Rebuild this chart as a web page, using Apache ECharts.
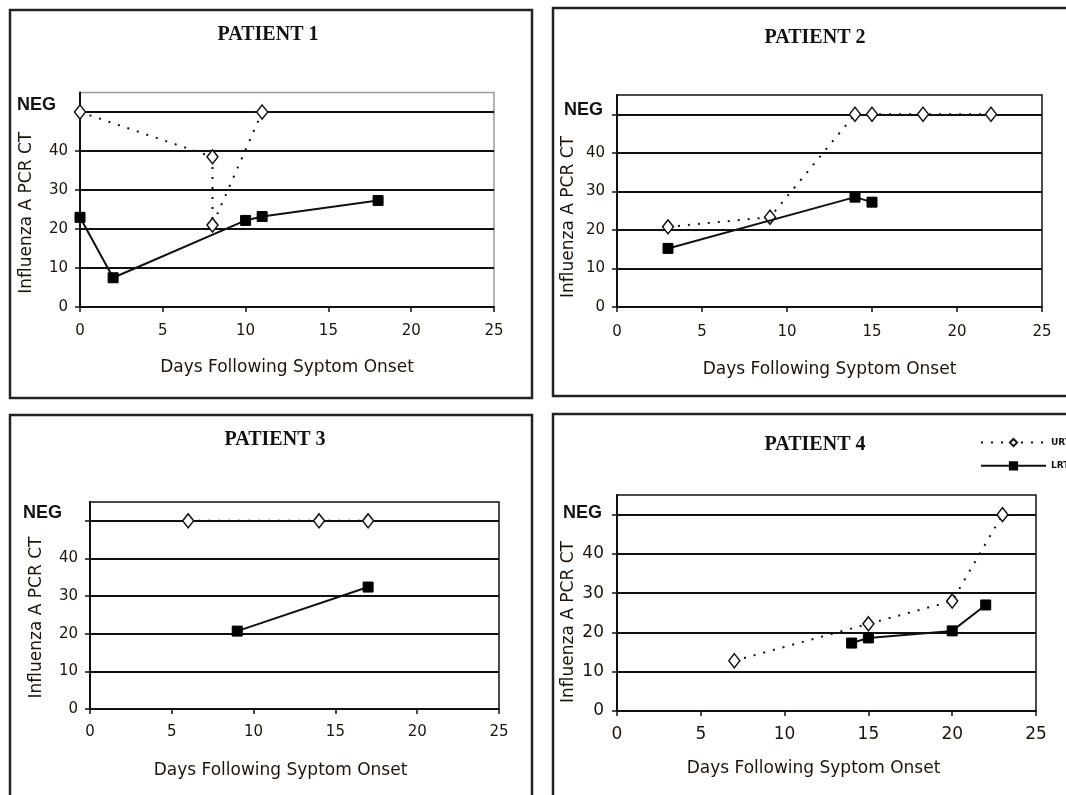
<!DOCTYPE html>
<html>
<head>
<meta charset="utf-8">
<script src="https://cdn.jsdelivr.net/npm/echarts@6/dist/echarts.min.js"></script>
<style>
  html, body { margin: 0; background: #fff; }
  #chart { width: 1066px; height: 795px; }
</style>
</head>
<body>
<div id="chart"></div>
<script>
// panel titles and axis text
var titles = ['PATIENT 1', 'PATIENT 2', 'PATIENT 3', 'PATIENT 4']
var xName = 'Days Following Syptom Onset'
var yName = 'Influenza A PCR CT'
var yTicks = [0, 10, 20, 30, 40, 50]
var negLabel = 'NEG'
var negCt = 50

// patient 1
var p1UrtDay = [0, 8, 8, 11]
var p1UrtCt = [50, 38.5, 21, 50]
var p1LrtDay = [0, 2, 10, 11, 18]
var p1LrtCt = [23, 7.5, 22.2, 23.2, 27.3]
// patient 2
var p2UrtDay = [3, 9, 14, 15, 18, 22]
var p2UrtCt = [20.8, 23.3, 50, 50, 50, 50]
var p2LrtDay = [3, 14, 15]
var p2LrtCt = [15.2, 28.5, 27.2]
// patient 3
var p3UrtDay = [6, 14, 17]
var p3UrtCt = [50, 50, 50]
var p3LrtDay = [9, 17]
var p3LrtCt = [20.7, 32.4]
// patient 4
var p4UrtDay = [7, 15, 20, 23]
var p4UrtCt = [12.8, 22.2, 28, 50]
var p4LrtDay = [14, 15, 20, 22]
var p4LrtCt = [17.3, 18.6, 20.4, 27]

var urt = [[p1UrtDay, p1UrtCt], [p2UrtDay, p2UrtCt], [p3UrtDay, p3UrtCt], [p4UrtDay, p4UrtCt]]
var lrt = [[p1LrtDay, p1LrtCt], [p2LrtDay, p2LrtCt], [p3LrtDay, p3LrtCt], [p4LrtDay, p4LrtCt]]

// where each panel sits on the page
var layout = [
  { box: [10, 10, 522, 388], title: [268, 35], grid: { left: 80, top: 92.5, width: 414, height: 214.5 },
    font: 15, yMargin: 12, xMargin: 17, xGap: 52, yGap: 45, xShift: 0, yShift: 13, negPad: [0, 12, 14, 0], edge: '#9a9a9a' },
  { box: [553, 8, 530, 388], title: [815, 38], grid: { left: 617, top: 95, width: 425, height: 212 },
    font: 15, yMargin: 12, xMargin: 18, xGap: 54, yGap: 40, xShift: 0, yShift: 16, negPad: [0, 2, 8, 0], edge: '#111' },
  { box: [10, 415, 522, 400], title: [275, 440], grid: { left: 90, top: 502, width: 409, height: 207 },
    font: 15, yMargin: 12, xMargin: 16, xGap: 53, yGap: 45, xShift: 14, yShift: 12, negPad: [0, 16, 16, 0], edge: '#111' },
  { box: [553, 414, 530, 400], title: [815, 445], grid: { left: 617, top: 495, width: 419, height: 216 },
    font: 17, yMargin: 13, xMargin: 15, xGap: 49, yGap: 40, xShift: 13, yShift: 19, negPad: [0, 2, 4, 0], edge: '#111' }
]

var textColor = '#1e140a'
var sans = 'DejaVu Sans'

function zip(xs, ys) {
  return xs.map(function (x, i) { return [x, ys[i]] })
}

var grids = [], xAxes = [], yAxes = [], series = [], graphics = []

layout.forEach(function (p, i) {
  grids.push(Object.assign({ show: true, borderColor: p.edge, borderWidth: 1.5, backgroundColor: 'transparent' }, p.grid))

  graphics.push({
    type: 'rect', shape: { x: p.box[0], y: p.box[1], width: p.box[2], height: p.box[3] },
    style: { fill: 'none', stroke: '#222', lineWidth: 2.5 }, silent: true
  })
  graphics.push({
    type: 'text', x: p.title[0], y: p.title[1],
    style: { text: titles[i], font: 'bold 20px "Liberation Serif"', fill: '#111', align: 'center', verticalAlign: 'middle' }
  })

  xAxes.push({
    gridIndex: i, type: 'value', min: 0, max: 25, interval: 5,
    name: xName, nameLocation: 'middle', nameGap: p.xGap, nameMoveOverlap: false,
    nameTextStyle: { fontFamily: sans, fontSize: 17, color: textColor, padding: [0, p.xShift * 2, 0, 0] },
    axisLine: { show: true, lineStyle: { color: '#111', width: 2 } },
    axisTick: { show: true, inside: false, length: 5, lineStyle: { color: '#111', width: 1.5 } },
    axisLabel: { margin: p.xMargin, fontFamily: sans, fontSize: p.font, color: textColor },
    splitLine: { show: false }
  })

  var splitColors = ['#111', '#111', '#111', '#111', '#111', '#111', p.edge]
  yAxes.push({
    gridIndex: i, type: 'value', min: 0, max: 55, interval: 10,
    name: yName, nameLocation: 'middle', nameGap: p.yGap, nameRotate: 90, nameMoveOverlap: false,
    nameTextStyle: { fontFamily: sans, fontSize: 17, color: textColor, padding: [0, p.yShift * 2, 0, 0] },
    axisLine: { show: true, lineStyle: { color: '#111', width: 2 } },
    axisTick: { show: true, inside: false, length: 5, customValues: yTicks, lineStyle: { color: '#111', width: 1.5 } },
    axisLabel: {
      margin: p.yMargin, fontFamily: sans, fontSize: p.font, color: textColor, customValues: yTicks,
      formatter: function (v) {
        if (v === negCt) return '{neg|' + negLabel + '}'
        if (v > negCt) return ''
        return v
      },
      rich: {
        neg: { fontFamily: 'Liberation Sans', fontWeight: 'bold', fontSize: 18, color: '#111', padding: p.negPad }
      }
    },
    splitLine: { show: true, lineStyle: { color: splitColors, width: 2 } }
  })

  series.push({
    name: 'URT', type: 'line', xAxisIndex: i, yAxisIndex: i,
    data: zip(urt[i][0], urt[i][1]),
    symbol: 'diamond', symbolSize: [11, 14], showAllSymbol: true,
    itemStyle: { color: '#fff', borderColor: '#111', borderWidth: 1.5 },
    lineStyle: { color: '#111', width: 2, type: [2, 8] },
    z: 3
  })
  series.push({
    name: 'LRT', type: 'line', xAxisIndex: i, yAxisIndex: i,
    data: zip(lrt[i][0], lrt[i][1]),
    symbol: 'rect', symbolSize: 10, showAllSymbol: true,
    itemStyle: { color: '#000', borderColor: '#000', borderWidth: 1 },
    lineStyle: { color: '#111', width: 2, type: 'solid' },
    z: 4
  })
})

var myChart = echarts.init(document.getElementById('chart'), null, { renderer: 'canvas' })
myChart.setOption({
  animation: false,
  backgroundColor: '#fff',
  grid: grids,
  xAxis: xAxes,
  yAxis: yAxes,
  series: series,
  graphic: graphics,
  legend: {
    orient: 'vertical', left: 980, top: 438,
    itemWidth: 65, itemHeight: 9, itemGap: 14, padding: 0,
    data: ['URT', 'LRT'],
    textStyle: { fontFamily: sans, fontSize: 9, fontWeight: 'bold', color: '#111' }
  }
})
</script>
</body>
</html>
